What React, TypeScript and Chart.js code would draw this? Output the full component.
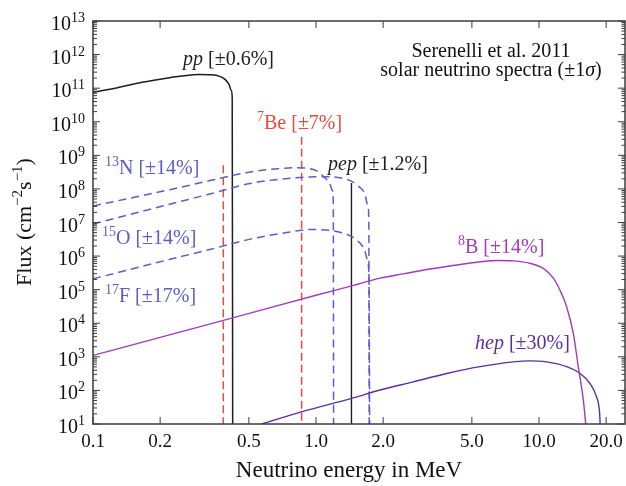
import React, { useEffect, useRef } from 'react';
import { Chart, registerables } from 'chart.js';

Chart.register(...registerables);

const FONT = '"Liberation Serif", "DejaVu Serif", serif';

// ---- axes ----
const xMin = 0.1;
const xMax = 24.3;
const yMin = 10;
const yMax = 1e13;
const xTicks = [0.1, 0.2, 0.5, 1, 2, 5, 10, 20];
const xTickLabels = ['0.1', '0.2', '0.5', '1.0', '2.0', '5.0', '10.0', '20.0'];
const yExponents = [1, 2, 3, 4, 5, 6, 7, 8, 9, 10, 11, 12, 13];

// ---- spectra (energy in MeV, flux in cm^-2 s^-1 MeV^-1) ----
const ppEnergy = [0.1, 0.13, 0.162, 0.2, 0.25, 0.3, 0.34, 0.37, 0.392, 0.408, 0.417, 0.421, 0.423];
const ppFlux = [7.5e10, 1.05e11, 1.45e11, 1.85e11, 2.3e11, 2.55e11, 2.5e11, 2.25e11, 1.8e11, 1.25e11, 8.5e10, 5e10, 10];

const be7Energy = [0.384, 0.862];
const be7Flux = [5.1e8, 3.6e9];

const pepEnergy = [1.442];
const pepFlux = [1.5e8];

const n13Energy = [0.1, 0.221, 0.338, 0.506, 0.65, 0.8, 0.92, 1.02, 1.09, 1.15, 1.185, 1.195, 1.199];
const n13Flux = [3.1e7, 9.5e7, 1.8e8, 3.2e8, 3.9e8, 4.3e8, 4.1e8, 3.3e8, 2.2e8, 1.5e8, 9e7, 5e7, 10];

const o15Energy = [0.1, 0.221, 0.338, 0.506, 0.846, 1.113, 1.3, 1.467, 1.55, 1.65, 1.71, 1.725, 1.732];
const o15Flux = [9e6, 3.5e7, 7.2e7, 1.45e8, 2.2e8, 2.3e8, 2.1e8, 1.6e8, 1.2e8, 7.5e7, 3e7, 1.2e7, 10];

const f17Energy = [0.1, 0.221, 0.338, 0.506, 0.75, 0.94, 1.2, 1.52, 1.65, 1.71, 1.73, 1.74];
const f17Flux = [2.1e5, 8e5, 1.6e6, 3.2e6, 5.1e6, 6.2e6, 5.6e6, 3e6, 1.5e6, 6e5, 1.5e5, 10];

const b8Energy = [0.1, 0.2, 0.423, 1.0, 1.445, 1.94, 2.5, 3.3, 4.5, 5.5, 6.5, 7.7, 9.1, 10.45, 11.6, 12.4, 13.3, 14.25, 15.0, 15.8, 16.2];
const b8Flux = [1.1e3, 3.8e3, 1.45e4, 6.8e4, 1.3e5, 2.2e5, 3.0e5, 4.2e5, 5.7e5, 6.8e5, 7.4e5, 7.2e5, 6.1e5, 4.3e5, 2.2e5, 9.8e4, 3.1e4, 5e3, 510, 52, 10];

const hepEnergy = [0.571, 0.86, 1.445, 1.94, 2.73, 3.86, 5.44, 7.67, 9.1, 10.8, 13.3, 15.3, 16.9, 18.1, 18.7, 18.8];
const hepFlux = [10, 23, 58, 103, 180, 320, 510, 710, 760, 710, 510, 320, 163, 65, 21, 10];

// ---- colours ----
const BLACK = '#1e1e1e';
const RED = '#ea4a3c';
const BLUE = '#5a5ec8';
const MAGENTA = '#a03cba';
const PURPLE = '#5c2ea2';

type Seg = { t: string; it?: boolean; sup?: boolean };

const pts = (E: number[], F: number[]) => E.map((e, i) => ({ x: e, y: F[i] }));
const vline = (e: number, f: number) => [
  { x: e, y: f },
  { x: e, y: yMin },
];

function drawRich(
  ctx: CanvasRenderingContext2D,
  x: number,
  y: number,
  segs: Seg[],
  size: number,
  supSize: number,
  supRise: number,
  color: string,
  align: 'left' | 'center' | 'right' = 'left'
) {
  const fontFor = (s: Seg) => `${s.it ? 'italic ' : ''}${s.sup ? supSize : size}px ${FONT}`;
  let total = 0;
  for (const s of segs) {
    ctx.font = fontFor(s);
    total += ctx.measureText(s.t).width;
  }
  let cx = align === 'center' ? x - total / 2 : align === 'right' ? x - total : x;
  ctx.fillStyle = color;
  ctx.textAlign = 'left';
  ctx.textBaseline = 'alphabetic';
  for (const s of segs) {
    ctx.font = fontFor(s);
    ctx.fillText(s.t, cx, s.sup ? y - supRise : y);
    cx += ctx.measureText(s.t).width;
  }
}

const decorPlugin = {
  id: 'decor',
  afterDatasetsDraw(chart: any) {
    const ctx: CanvasRenderingContext2D = chart.ctx;
    const { left, right, top, bottom } = chart.chartArea;
    const xs = chart.scales.x;
    const ys = chart.scales.y;
    ctx.save();

    // frame
    ctx.strokeStyle = '#3c3c3c';
    ctx.lineWidth = 1.5;
    ctx.strokeRect(left, top, right - left, bottom - top);

    // y ticks (major + minor) on both sides
    ctx.lineWidth = 1;
    ctx.beginPath();
    for (const n of yExponents) {
      const py = ys.getPixelForValue(Math.pow(10, n));
      ctx.moveTo(left, py);
      ctx.lineTo(left + 7, py);
      ctx.moveTo(right, py);
      ctx.lineTo(right - 7, py);
      if (n < 13) {
        for (let k = 2; k <= 9; k++) {
          const pm = ys.getPixelForValue(k * Math.pow(10, n));
          ctx.moveTo(left, pm);
          ctx.lineTo(left + 4, pm);
          ctx.moveTo(right, pm);
          ctx.lineTo(right - 3.5, pm);
        }
      }
    }
    // x ticks top & bottom
    for (const v of xTicks) {
      const px = xs.getPixelForValue(v);
      ctx.moveTo(px, bottom);
      ctx.lineTo(px, bottom - 7);
      ctx.moveTo(px, top);
      ctx.lineTo(px, top + 7);
    }
    ctx.stroke();

    // x tick labels
    ctx.fillStyle = '#111';
    ctx.font = `19px ${FONT}`;
    ctx.textAlign = 'center';
    ctx.textBaseline = 'alphabetic';
    xTicks.forEach((v, i) => {
      ctx.fillText(xTickLabels[i], xs.getPixelForValue(v), bottom + 23);
    });

    // y tick labels: 10^n
    for (const n of yExponents) {
      const py = ys.getPixelForValue(Math.pow(10, n));
      drawRich(ctx, left - 8, py + 9, [{ t: '10' }, { t: String(n), sup: true }], 20, 14, 8, '#111', 'right');
    }

    // axis titles
    drawRich(ctx, 349, 477, [{ t: 'Neutrino energy in MeV' }], 23, 16, 9, '#111', 'center');
    ctx.save();
    ctx.translate(31, 222);
    ctx.rotate(-Math.PI / 2);
    drawRich(
      ctx,
      0,
      0,
      [{ t: 'Flux (cm' }, { t: '\u22122', sup: true }, { t: 's' }, { t: '\u22121', sup: true }, { t: ')' }],
      22,
      15,
      9,
      '#111',
      'center'
    );
    ctx.restore();

    // annotations
    drawRich(ctx, 183, 65, [{ t: 'pp', it: true }, { t: ' [±0.6%]' }], 20, 14, 8, BLACK);
    drawRich(ctx, 257, 129, [{ t: '7', sup: true }, { t: 'Be [±7%]' }], 20, 14, 8, RED);
    drawRich(ctx, 328, 170, [{ t: 'pep', it: true }, { t: ' [±1.2%]' }], 20, 14, 8, BLACK);
    drawRich(ctx, 105, 174, [{ t: '13', sup: true }, { t: 'N [±14%]' }], 20, 14, 8, BLUE);
    drawRich(ctx, 102, 244, [{ t: '15', sup: true }, { t: 'O [±14%]' }], 20, 14, 8, BLUE);
    drawRich(ctx, 105, 302, [{ t: '17', sup: true }, { t: 'F [±17%]' }], 20, 14, 8, BLUE);
    drawRich(ctx, 458, 253, [{ t: '8', sup: true }, { t: 'B [±14%]' }], 20, 14, 8, MAGENTA);
    drawRich(ctx, 475, 349, [{ t: 'hep', it: true }, { t: ' [±30%]' }], 20, 14, 8, PURPLE);
    drawRich(ctx, 491, 57, [{ t: 'Serenelli et al. 2011' }], 20, 14, 8, '#111', 'center');
    drawRich(
      ctx,
      491,
      76,
      [{ t: 'solar neutrino spectra (±1' }, { t: 'σ', it: true }, { t: ')' }],
      20,
      14,
      8,
      '#111',
      'center'
    );

    ctx.restore();
  },
};

export default function App() {
  const ref = useRef<HTMLCanvasElement | null>(null);

  useEffect(() => {
    document.body.style.margin = '0';
    const canvas = ref.current;
    if (!canvas) return;

    const line = (data: any[], color: string, dash: number[] = [], width = 1.5, smooth = true) => ({
      data,
      borderColor: color,
      backgroundColor: color,
      borderWidth: width,
      borderDash: dash,
      showLine: true,
      pointRadius: 0,
      cubicInterpolationMode: smooth ? 'monotone' : 'default',
      tension: 0,
      fill: false,
    });

    const datasets = [
      line(pts(b8Energy, b8Flux), MAGENTA, [], 1.4),
      line(pts(hepEnergy, hepFlux), PURPLE, [], 1.4),
      line(pts(n13Energy, n13Flux), BLUE, [8, 5], 1.5),
      line(pts(o15Energy, o15Flux), BLUE, [8, 5], 1.5),
      line(pts(f17Energy, f17Flux), BLUE, [8, 5], 1.5),
      ...be7Energy.map((e, i) => line(vline(e, be7Flux[i]), RED, [8, 4], 1.5, false)),
      ...pepEnergy.map((e, i) => line(vline(e, pepFlux[i]), BLACK, [], 1.4, false)),
      line(pts(ppEnergy, ppFlux), BLACK, [], 1.5),
    ];

    const chart = new Chart(canvas, {
      type: 'scatter',
      data: { datasets },
      options: {
        animation: false,
        responsive: false,
        devicePixelRatio: 1,
        layout: { padding: { left: 93, top: 21, right: 1, bottom: 62 } },
        plugins: { legend: { display: false }, tooltip: { enabled: false } },
        scales: {
          x: { type: 'logarithmic', min: xMin, max: xMax, display: false },
          y: { type: 'logarithmic', min: yMin, max: yMax, display: false },
        },
      },
      plugins: [decorPlugin],
    } as any);

    return () => chart.destroy();
  }, []);

  return (
    <div style={{ width: 626, height: 486 }}>
      <canvas ref={ref} width={626} height={486} />
    </div>
  );
}
